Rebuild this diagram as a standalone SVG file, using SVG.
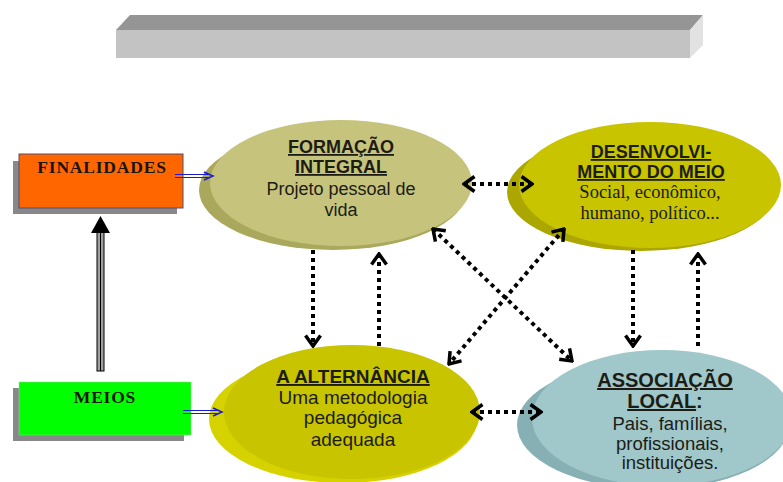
<svg xmlns="http://www.w3.org/2000/svg" width="783" height="482" viewBox="0 0 783 482">
<style>
.head{font-family:"Liberation Sans",Arial,sans-serif;font-weight:bold;fill:#1c1c14;text-anchor:middle;text-decoration:underline}
.body{font-family:"Liberation Sans",Arial,sans-serif;fill:#1c1c14;text-anchor:middle}
.serif{font-family:"Liberation Serif","Times New Roman",serif;fill:#1c1c14;text-anchor:middle}
.lbl{font-family:"Liberation Serif","Times New Roman",serif;font-weight:bold;fill:#1a1410;text-anchor:middle;font-size:17.5px;letter-spacing:0.8px}
.dot{stroke:#000;stroke-width:4;stroke-dasharray:4 4;fill:none}
.blue{stroke:#1a1ad0;stroke-width:1;fill:none}
</style>
<defs>
<marker id="chev" viewBox="0 0 14 18" refX="12" refY="9" markerWidth="14" markerHeight="18" markerUnits="userSpaceOnUse" orient="auto-start-reverse">
<path d="M1.5,1.5 L12,9 L1.5,16.5" fill="none" stroke="#000" stroke-width="3.5"/>
</marker>
</defs>
<rect width="783" height="482" fill="#fff"/>

<g id="title-bar">
<polygon points="116,30 130,15 703,15 690,30" fill="#959595"/>
<rect x="116" y="30" width="574" height="28" fill="#c3c3c3"/>
<polygon points="690,30 703,15 703,45 690,58" fill="#e2e2e2"/>
</g>

<g id="finalidades">
<rect x="13" y="161" width="164" height="53" fill="#888"/>
<rect x="19" y="154" width="164" height="54" fill="#ff6600" stroke="#5a4a6a" stroke-width="1"/>
<text class="lbl" x="102" y="173">FINALIDADES</text>
</g>

<g id="meios">
<rect x="13" y="388" width="171" height="53" fill="#888"/>
<rect x="19" y="382" width="172" height="53" fill="#00ff00" stroke="#9ad09a" stroke-width="0.5"/>
<text class="lbl" x="105" y="403">MEIOS</text>
</g>

<g id="formacao">
<ellipse cx="333" cy="190" rx="134" ry="60" fill="#aaa85c"/>
<ellipse cx="341" cy="183" rx="131" ry="63" fill="#c6c47c"/>
<text class="head" x="341" y="153" font-size="18">FORMAÇÃO</text>
<text class="head" x="341" y="173" font-size="18">INTEGRAL</text>
<text class="body" x="341" y="195" font-size="18">Projeto pessoal de</text>
<text class="body" x="341" y="216" font-size="18">vida</text>
</g>

<g id="desenvolvimento">
<ellipse cx="641" cy="192" rx="134" ry="59" fill="#aba600"/>
<ellipse cx="650" cy="185" rx="131" ry="63" fill="#c8c400"/>
<text class="head" x="651" y="158" font-size="18">DESENVOLVI-</text>
<text class="head" x="651" y="178" font-size="18">MENTO DO MEIO</text>
<text class="serif" x="650" y="198" font-size="18.5">Social, econômico,</text>
<text class="serif" x="650" y="219" font-size="18.5">humano, político...</text>
</g>

<g id="alternancia">
<ellipse cx="343" cy="419" rx="134" ry="64" fill="#d6d200"/>
<ellipse cx="352" cy="412" rx="128" ry="67" fill="#c8c400"/>
<text class="head" x="353" y="383" font-size="19">A ALTERNÂNCIA</text>
<text class="body" x="353" y="404" font-size="19">Uma metodologia</text>
<text class="body" x="353" y="424" font-size="19">pedagógica</text>
<text class="body" x="353" y="446" font-size="19">adequada</text>
</g>

<g id="associacao">
<ellipse cx="653" cy="425" rx="136" ry="64" fill="#86b0b3"/>
<ellipse cx="662" cy="418" rx="130" ry="68" fill="#a0c7ca"/>
<text class="head" x="665" y="387" font-size="20">ASSOCIAÇÃO</text>
<text class="body" x="665" y="408" font-size="20" font-weight="bold"><tspan text-decoration="underline">LOCAL</tspan>:</text>
<text class="body" x="670" y="430" font-size="18.5">Pais, famílias,</text>
<text class="body" x="670" y="450" font-size="18.5">profissionais,</text>
<text class="body" x="670" y="469" font-size="18.5">instituições.</text>
</g>

<g id="connectors">
<line class="dot" x1="464" y1="184" x2="532" y2="184" marker-start="url(#chev)" marker-end="url(#chev)"/>
<line class="dot" x1="472" y1="412" x2="541" y2="412" marker-start="url(#chev)" marker-end="url(#chev)"/>
<line class="dot" x1="313" y1="250" x2="313" y2="346" marker-end="url(#chev)"/>
<line class="dot" x1="379" y1="346" x2="379" y2="254" marker-end="url(#chev)"/>
<line class="dot" x1="633" y1="250" x2="633" y2="346" marker-end="url(#chev)"/>
<line class="dot" x1="698" y1="346" x2="698" y2="254" marker-end="url(#chev)"/>
<line class="dot" x1="433" y1="229" x2="572" y2="361" marker-start="url(#chev)" marker-end="url(#chev)"/>
<line class="dot" x1="564" y1="229" x2="449" y2="364" marker-start="url(#chev)" marker-end="url(#chev)"/>
<g id="arrow-finalidades">
<line class="blue" x1="175" y1="174.5" x2="208" y2="174.5"/>
<line class="blue" x1="175" y1="177.5" x2="208" y2="177.5"/>
<path d="M204,172 L213,176 L204,180" fill="none" stroke="#1a1ad0" stroke-width="1.5"/>
</g>
<g id="arrow-meios">
<line class="blue" x1="183" y1="410.5" x2="217" y2="410.5"/>
<line class="blue" x1="183" y1="413.5" x2="217" y2="413.5"/>
<path d="M213,408 L222,412 L213,416" fill="none" stroke="#1a1ad0" stroke-width="1.5"/>
</g>
<g id="arrow-meios-finalidades">
<rect x="97" y="232" width="7" height="139" fill="#a0a0a0" stroke="#000" stroke-width="1"/>
<line x1="100.5" y1="232" x2="100.5" y2="371" stroke="#000" stroke-width="1"/>
<polygon points="91,233 100.5,216 110,233" fill="#000"/>
</g>
</g>
</svg>
